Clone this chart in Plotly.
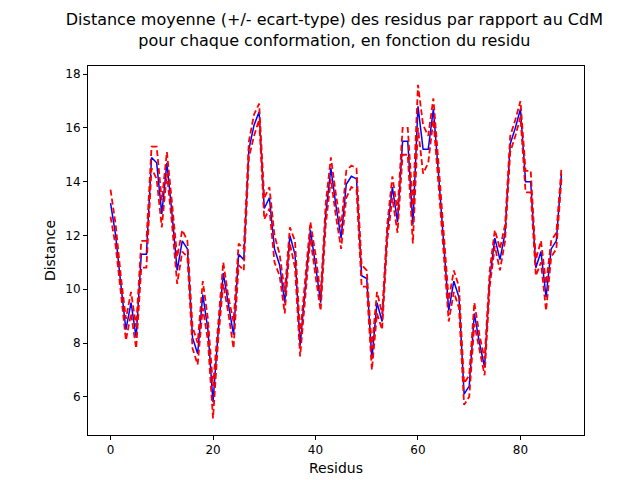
import plotly.graph_objects as go

residus = list(range(89))
moyenne = [13.2, 12.0, 10.2, 8.5, 9.5, 8.2, 11.3, 11.3, 14.9, 14.7,
           12.8, 14.7, 12.8, 10.7, 11.8, 11.5, 8.2, 7.6, 9.8, 8.5,
           5.8, 8.4, 10.6, 9.4, 8.3, 11.3, 11.1, 15.2, 16.1, 16.6,
           13.0, 13.4, 11.5, 10.9, 9.5, 12.0, 11.3, 7.9, 10.1, 12.2,
           10.9, 9.5, 12.8, 14.5, 13.1, 11.9, 13.9, 14.2, 14.1, 10.5,
           10.4, 7.4, 9.5, 8.8, 12.1, 13.8, 12.5, 15.5, 15.5, 12.4,
           16.8, 15.2, 15.2, 16.7, 14.3, 11.8, 9.2, 10.3, 9.7, 6.1,
           6.4, 9.1, 8.0, 7.1, 10.4, 11.9, 11.1, 12.1, 15.4, 16.0,
           16.7, 14.0, 14.0, 10.8, 11.4, 9.7, 11.5, 11.8, 14.3]
ecart = [0.5, 0.4, 0.3, 0.4, 0.4, 0.4, 0.5, 0.5, 0.4, 0.6,
         0.5, 0.4, 0.4, 0.5, 0.4, 0.3, 0.4, 0.4, 0.5, 0.4,
         0.6, 0.3, 0.4, 0.3, 0.5, 0.4, 0.4, 0.3, 0.4, 0.3,
         0.4, 0.4, 0.5, 0.4, 0.4, 0.3, 0.5, 0.4, 0.4, 0.3,
         0.4, 0.3, 0.4, 0.4, 0.4, 0.4, 0.5, 0.4, 0.4, 0.4,
         0.3, 0.4, 0.4, 0.3, 0.3, 0.4, 0.4, 0.5, 0.5, 0.7,
         0.8, 0.9, 0.5, 0.4, 0.4, 0.4, 0.4, 0.4, 0.4, 0.4,
         0.4, 0.4, 0.3, 0.3, 0.3, 0.3, 0.4, 0.3, 0.3, 0.3,
         0.3, 0.4, 0.4, 0.3, 0.4, 0.5, 0.3, 0.3, 0.2]

haut = [m + e for m, e in zip(moyenne, ecart)]
bas = [m - e for m, e in zip(moyenne, ecart)]

fig = go.Figure()
fig.add_trace(go.Scatter(x=residus, y=moyenne, mode="lines",
                         line=dict(color="blue", width=1.5)))
for s in (haut, bas):
    fig.add_trace(go.Scatter(x=residus, y=s, mode="lines",
                             line=dict(color="red", width=1.8, dash="6px,3px")))

fig.update_layout(
    width=640, height=480, showlegend=False,
    plot_bgcolor="white", paper_bgcolor="white",
    font=dict(family="DejaVu Sans", size=12, color="black"),
    margin=dict(l=80, r=64, t=58, b=53, autoexpand=False),
    title=dict(text="Distance moyenne (+/- ecart-type) des residus par rapport au CdM<br>pour chaque conformation, en fonction du residu",
               x=0.51, xanchor="center", y=0.965, yanchor="top",
               font=dict(size=16)),
)
axis = dict(showgrid=False, zeroline=False, showline=True, mirror=True,
            linecolor="black", linewidth=1, ticks="outside", ticklen=4,
            tickcolor="black", tickfont=dict(size=12), automargin=False)
fig.update_xaxes(range=[-4.4, 92.4], tickvals=[0, 20, 40, 60, 80],
                 title=dict(text="Residus", standoff=6), **axis)
fig.update_yaxes(range=[4.58, 18.3], tickvals=[6, 8, 10, 12, 14, 16, 18],
                 title=dict(text="Distance", standoff=6), **axis)
fig.write_html("out.html")
